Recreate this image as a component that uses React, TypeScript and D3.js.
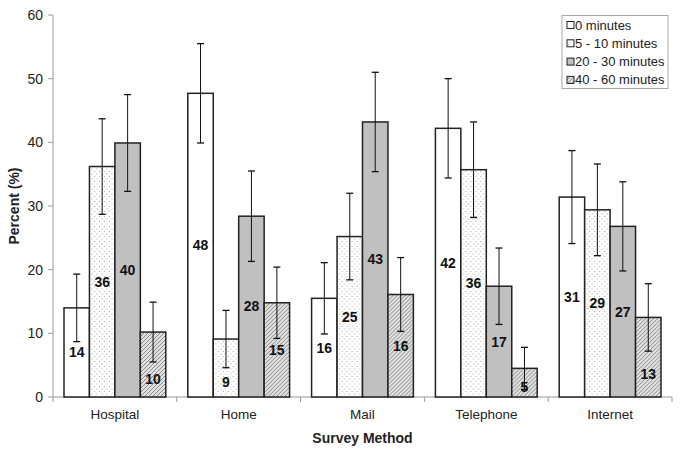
import React from "react";
import * as d3 from "d3";

const categories = ["Hospital", "Home", "Mail", "Telephone", "Internet"];
const seriesNames = ["0 minutes", "5 - 10 minutes", "20 - 30 minutes", "40 - 60 minutes"];
const v0 = [14.0, 47.7, 15.5, 42.2, 31.4];
const v1 = [36.2, 9.1, 25.2, 35.7, 29.4];
const v2 = [39.9, 28.4, 43.2, 17.4, 26.8];
const v3 = [10.2, 14.8, 16.1, 4.5, 12.5];
const e0 = [5.3, 7.8, 5.6, 7.8, 7.3];
const e1 = [7.5, 4.5, 6.8, 7.5, 7.2];
const e2 = [7.6, 7.1, 7.8, 6.0, 7.0];
const e3 = [4.7, 5.6, 5.8, 3.3, 5.3];
const yTicks = [0, 10, 20, 30, 40, 50, 60];

const values = [v0, v1, v2, v3];
const errors = [e0, e1, e2, e3];
const fills = ["#ffffff", "url(#dots)", "#c0c0c0", "url(#hatch)"];

export default function App() {
  const W = 685, H = 459;
  const left = 53, right = 672, top = 15, bottom = 397;
  const x0 = d3.scaleBand().domain(categories).range([left, right]).paddingInner(0).paddingOuter(0);
  const inner = d3.scaleBand().domain(seriesNames).range([11, x0.bandwidth() - 11]);
  const y = d3.scaleLinear().domain([0, 60]).range([bottom, top]);
  const font = "Arial, 'Liberation Sans', sans-serif";
  const labelY = (v: number, e: number) => {
    const center = (y(v) + bottom) / 2;
    const errLow = y(v - e);
    if (center - 7 < errLow + 2) {
      return Math.min((errLow + bottom) / 2, bottom - 10);
    }
    return center;
  };
  return (
    <svg width={W} height={H} style={{ display: "block", position: "absolute", left: 0, top: 0 }} fontFamily={font}>
      <defs>
        <pattern id="dots" width="5" height="5" patternUnits="userSpaceOnUse">
          <rect width="5" height="5" fill="#ffffff" />
          <rect x="1" y="1" width="1" height="1" fill="#a8a8a8" />
          <rect x="3.5" y="3.5" width="1" height="1" fill="#a8a8a8" />
        </pattern>
        <pattern id="hatch" width="4" height="4" patternUnits="userSpaceOnUse">
          <rect width="4" height="4" fill="#e0e0e0" />
          <path d="M-1,1 l2,-2 M0,4 l4,-4 M3,5 l2,-2" stroke="#8a8a8a" strokeWidth="1" />
        </pattern>
      </defs>
      <rect width={W} height={H} fill="#fff" />
      {/* axes */}
      <line x1={left} y1={top} x2={left} y2={bottom} stroke="#999" strokeWidth={1} />
      {yTicks.map((t) => (
        <g key={t}>
          <line x1={left - 5} x2={left} y1={y(t)} y2={y(t)} stroke="#999" />
          <text x={left - 10} y={y(t)} dy="0.35em" textAnchor="end" fontSize={14} fill="#222">{t}</text>
        </g>
      ))}
      <line x1={left} y1={bottom} x2={right} y2={bottom} stroke="#999" />
      {categories.map((c, i) => (
        <g key={c}>
          <line x1={(x0(c) as number) + x0.bandwidth()} x2={(x0(c) as number) + x0.bandwidth()} y1={bottom} y2={bottom + 5} stroke="#999" />
          {i === 0 && <line x1={left} x2={left} y1={bottom} y2={bottom + 5} stroke="#999" />}
          <text x={(x0(c) as number) + x0.bandwidth() / 2} y={bottom + 22} textAnchor="middle" fontSize={13.5} fill="#222">{c}</text>
        </g>
      ))}
      {/* bars */}
      {categories.map((c, i) => (
        <g key={c} transform={`translate(${x0(c)},0)`}>
          {seriesNames.map((s, j) => {
            const v = values[j][i];
            const e = errors[j][i];
            const bx = inner(s) as number;
            const bw = inner.bandwidth();
            const cx = bx + bw / 2;
            return (
              <g key={s}>
                <rect x={bx} y={y(v)} width={bw} height={bottom - y(v)} fill={fills[j]} stroke="#222" strokeWidth={1.5} />
                <line x1={cx} x2={cx} y1={y(v + e)} y2={y(v - e)} stroke="#111" strokeWidth={1} />
                <line x1={cx - 3.5} x2={cx + 3.5} y1={y(v + e)} y2={y(v + e)} stroke="#111" strokeWidth={1.3} />
                <line x1={cx - 3.5} x2={cx + 3.5} y1={y(v - e)} y2={y(v - e)} stroke="#111" strokeWidth={1.3} />
                <text x={cx} y={labelY(v, e)} dy="0.35em" textAnchor="middle" fontSize={14} fontWeight="bold" fill="#111">{Math.round(v)}</text>
              </g>
            );
          })}
        </g>
      ))}
      {/* axis titles */}
      <text x={(left + right) / 2} y={443} textAnchor="middle" fontSize={14} fontWeight="bold" fill="#222">Survey Method</text>
      <text transform={`translate(19,${(top + bottom) / 2}) rotate(-90)`} textAnchor="middle" fontSize={14} fontWeight="bold" fill="#222">Percent (%)</text>
      {/* legend */}
      <rect x={562} y={15.5} width={106} height={73} fill="#fff" stroke="#aaa" />
      {seriesNames.map((s, j) => (
        <g key={s} transform={`translate(567,${25 + j * 18.3})`}>
          <rect x={0} y={-3.5} width={7} height={7} fill={fills[j]} stroke="#222" strokeWidth={1} />
          <text x={8} y={0} dy="0.35em" fontSize={13} fill="#222">{s}</text>
        </g>
      ))}
    </svg>
  );
}
